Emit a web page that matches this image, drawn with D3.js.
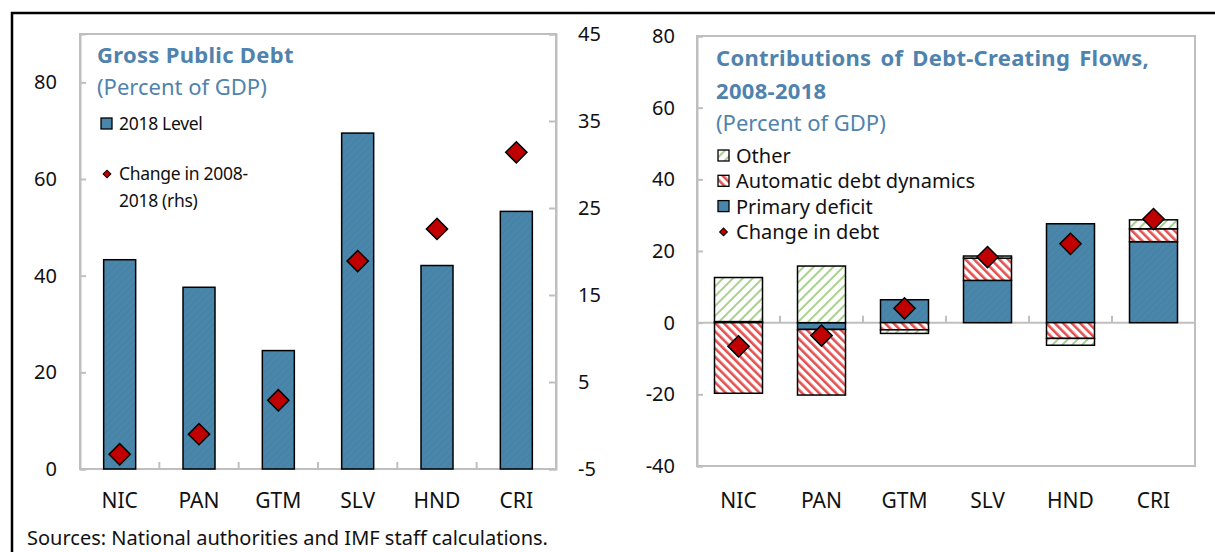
<!DOCTYPE html>
<html>
<head>
<meta charset="utf-8">
<script src="https://cdn.jsdelivr.net/npm/d3@7"></script>
<style>
body { margin: 0; background: #fff; }
text { font-family: "Noto Sans", "Open Sans", sans-serif; fill: #111; }
</style>
</head>
<body>
<div id="chart"></div>
<script>
const width = 1215, height = 552;

// data
const categories = ["NIC", "PAN", "GTM", "SLV", "HND", "CRI"];
const level2018 = [43.3, 37.6, 24.5, 69.5, 42.1, 53.3];
const change0818 = [-3.3, -1.0, 2.9, 18.9, 22.6, 31.4];
const leftTicks = [0, 20, 40, 60, 80];
const rhsTicks = [-5, 5, 15, 25, 35, 45];

const primaryDeficit = [0.3, -1.9, 6.4, 11.8, 27.6, 22.6];
const autoDynamics = [-19.7, -18.3, -2.0, 6.2, -4.4, 3.6];
const otherFlows = [12.3, 15.8, -1.0, 0.6, -1.9, 2.5];
const debtChange = [-6.6, -3.6, 4.0, 18.3, 22.0, 28.9];
const rightTicks = [-40, -20, 0, 20, 40, 60, 80];

const blue = "#4a86aa", red = "#c00000", titleBlue = "#4f83ae", grey = "#bfbfbf";

const svg = d3.select("#chart").append("svg")
.attr("width", width)
.attr("height", height);

svg.append("rect").attr("width", width).attr("height", height).attr("fill", "#fff");

// patterns
const defs = svg.append("defs");
const pBlue = defs.append("pattern").attr("id", "pBlue")
.attr("width", 5).attr("height", 5).attr("patternUnits", "userSpaceOnUse")
.attr("patternTransform", "rotate(45)");
pBlue.append("rect").attr("width", 5).attr("height", 5).attr("fill", blue);
pBlue.append("rect").attr("width", 1).attr("height", 5).attr("fill", "#4581a6");

const pRed = defs.append("pattern").attr("id", "pRed")
.attr("width", 6).attr("height", 6).attr("patternUnits", "userSpaceOnUse")
.attr("patternTransform", "rotate(-45)");
pRed.append("rect").attr("width", 6).attr("height", 6).attr("fill", "#fff");
pRed.append("rect").attr("width", 2.6).attr("height", 6).attr("fill", "#e2504f");

const pGreen = defs.append("pattern").attr("id", "pGreen")
.attr("width", 7).attr("height", 7).attr("patternUnits", "userSpaceOnUse")
.attr("patternTransform", "rotate(45)");
pGreen.append("rect").attr("width", 7).attr("height", 7).attr("fill", "#fff");
pGreen.append("rect").attr("width", 2).attr("height", 7).attr("fill", "#a9d18e");

// outer frame
svg.append("path")
.attr("d", "M12,552V13H1215")
.attr("fill", "none").attr("stroke", "#000").attr("stroke-width", 2.5);

const diamond = d3.symbol().type(d3.symbolSquare);
const fmt = d => String(d);

// ---------- left panel ----------
const L = {left: 80, right: 556, top: 34, bottom: 469};

const xL = d3.scaleBand().domain(categories).range([L.left, L.right]);
const yL = d3.scaleLinear().domain([0, 90]).range([L.bottom, L.top]);
const yR = d3.scaleLinear().domain([-5, 45]).range([L.bottom, L.top]);

const left = svg.append("g");

left.append("rect")
.attr("x", L.left).attr("y", L.top)
.attr("width", L.right - L.left).attr("height", L.bottom - L.top)
.attr("fill", "none").attr("stroke", grey).attr("stroke-width", 2);

left.append("g").attr("transform", `translate(${L.left},0)`)
.call(d3.axisLeft(yL).tickValues(leftTicks).tickFormat(fmt).tickSize(-6).tickPadding(23));
left.append("g").attr("transform", `translate(${L.right},0)`)
.call(d3.axisRight(yR).tickValues(rhsTicks).tickFormat(fmt).tickSize(-7).tickPadding(22));

left.append("g").selectAll("line")
.data(categories.slice(1))
.join("line")
.attr("x1", d => xL(d)).attr("x2", d => xL(d))
.attr("y1", yL(0)).attr("y2", yL(0) - 7)
.attr("stroke", grey).attr("stroke-width", 2);

left.append("g").selectAll("rect")
.data(categories)
.join("rect")
.attr("x", d => xL(d) + xL.bandwidth() / 2 - 16)
.attr("width", 32)
.attr("y", (d, i) => yL(level2018[i]))
.attr("height", (d, i) => yL(0) - yL(level2018[i]))
.attr("fill", "url(#pBlue)")
.attr("stroke", "#000").attr("stroke-width", 1.5);

left.append("g").selectAll("path")
.data(categories)
.join("path")
.attr("d", diamond.size(225))
.attr("transform", (d, i) => `translate(${xL(d) + xL.bandwidth() / 2},${yR(change0818[i])}) rotate(45)`)
.attr("fill", red).attr("stroke", "#000").attr("stroke-width", 1.5);

left.append("g").selectAll("text")
.data(categories)
.join("text")
.attr("x", d => xL(d) + xL.bandwidth() / 2)
.attr("y", 508)
.attr("text-anchor", "middle")
.attr("font-size", 21)
.text(d => d);

left.append("text").attr("x", 97).attr("y", 63)
.attr("font-size", 22).attr("font-weight", "bold").attr("letter-spacing", 0.3)
.style("fill", titleBlue).text("Gross Public Debt");
left.append("text").attr("x", 97).attr("y", 95)
.attr("font-size", 22).style("fill", titleBlue).text("(Percent of GDP)");

left.append("rect").attr("x", 101).attr("y", 118).attr("width", 11).attr("height", 11)
.attr("fill", blue).attr("stroke", "#000").attr("stroke-width", 1.3);
left.append("text").attr("x", 119).attr("y", 130).attr("font-size", 17.5)
.attr("letter-spacing", -0.3).text("2018 Level");

left.append("path").attr("d", diamond.size(30))
.attr("transform", "translate(107,174) rotate(45)")
.attr("fill", red).attr("stroke", "#000").attr("stroke-width", 1);
left.append("text").attr("x", 119).attr("y", 180).attr("font-size", 17.5)
.attr("letter-spacing", -0.3).text("Change in 2008-");
left.append("text").attr("x", 119).attr("y", 207).attr("font-size", 17.5)
.attr("letter-spacing", -0.3).text("2018 (rhs)");

// ---------- right panel ----------
const R = {left: 697, right: 1195, top: 36, bottom: 466};

const xB = d3.scaleBand().domain(categories).range([R.left, R.right]);
const yB = d3.scaleLinear().domain([-40, 80]).range([R.bottom, R.top]);

const right = svg.append("g");

right.append("rect")
.attr("x", R.left).attr("y", R.top)
.attr("width", R.right - R.left).attr("height", R.bottom - R.top)
.attr("fill", "none").attr("stroke", grey).attr("stroke-width", 2);

right.append("g").attr("transform", `translate(${R.left},0)`)
.call(d3.axisLeft(yB).tickValues(rightTicks).tickFormat(fmt).tickSize(-6).tickPadding(22));

right.append("line")
.attr("x1", R.left).attr("x2", R.right)
.attr("y1", yB(0)).attr("y2", yB(0))
.attr("stroke", grey).attr("stroke-width", 2);

right.append("g").selectAll("line")
.data(categories.slice(1))
.join("line")
.attr("x1", d => xB(d)).attr("x2", d => xB(d))
.attr("y1", yB(0)).attr("y2", yB(0) - 7)
.attr("stroke", grey).attr("stroke-width", 2);

const rows = categories.map((c, i) => ({
    cat: c, primary: primaryDeficit[i], automatic: autoDynamics[i], other: otherFlows[i]
}));
const keys = ["primary", "automatic", "other"];
const fills = {primary: "url(#pBlue)", automatic: "url(#pRed)", other: "url(#pGreen)"};
const stacked = d3.stack().keys(keys).offset(d3.stackOffsetDiverging)(rows);

right.append("g").selectAll("g")
.data(stacked)
.join("g")
.attr("fill", d => fills[d.key])
.selectAll("rect")
.data(d => d)
.join("rect")
.attr("x", d => xB(d.data.cat) + xB.bandwidth() / 2 - 24)
.attr("width", 48)
.attr("y", d => yB(Math.max(d[0], d[1])))
.attr("height", d => Math.abs(yB(d[0]) - yB(d[1])))
.attr("stroke", "#000").attr("stroke-width", 1.5);

right.append("g").selectAll("path")
.data(categories)
.join("path")
.attr("d", diamond.size(225))
.attr("transform", (d, i) => `translate(${xB(d) + xB.bandwidth() / 2},${yB(debtChange[i])}) rotate(45)`)
.attr("fill", red).attr("stroke", "#000").attr("stroke-width", 1.5);

right.append("g").selectAll("text")
.data(categories)
.join("text")
.attr("x", d => xB(d) + xB.bandwidth() / 2)
.attr("y", 508)
.attr("text-anchor", "middle")
.attr("font-size", 21)
.text(d => d);

right.append("text").attr("x", 716).attr("y", 66)
.attr("font-size", 22).attr("font-weight", "bold").attr("letter-spacing", 0.3)
.attr("word-spacing", 3)
.style("fill", titleBlue).text("Contributions  of Debt-Creating Flows,");
right.append("text").attr("x", 716).attr("y", 99)
.attr("font-size", 22).attr("font-weight", "bold").attr("letter-spacing", 0.3)
.style("fill", titleBlue).text("2008-2018");
right.append("text").attr("x", 716).attr("y", 131)
.attr("font-size", 22).style("fill", titleBlue).text("(Percent of GDP)");

const legendItems = [
    {label: "Other", fill: "url(#pGreen)"},
    {label: "Automatic debt dynamics", fill: "url(#pRed)"},
    {label: "Primary deficit", fill: blue},
    {label: "Change in debt", fill: null}
];
const lg = right.append("g").selectAll("g")
.data(legendItems)
.join("g")
.attr("transform", (d, i) => `translate(718,${156 + i * 25.3})`);
lg.filter(d => d.fill)
.append("rect")
.attr("x", 0).attr("y", -6).attr("width", 11).attr("height", 11)
.attr("fill", d => d.fill).attr("stroke", "#000").attr("stroke-width", 1.3);
lg.filter(d => !d.fill)
.append("path")
.attr("d", diamond.size(30))
.attr("transform", "translate(5.5,0) rotate(45)")
.attr("fill", red).attr("stroke", "#000").attr("stroke-width", 1);
lg.append("text")
.attr("x", 18).attr("y", 7)
.attr("font-size", 20)
.text(d => d.label);

// axis text styling
svg.selectAll(".tick text").attr("font-size", 20).attr("font-family", "Noto Sans, sans-serif").style("fill", "#111");
svg.selectAll(".tick line").attr("stroke", grey).attr("stroke-width", 2);
svg.selectAll(".domain").attr("stroke", grey).attr("stroke-width", 2);

svg.append("text").attr("x", 27).attr("y", 545)
.attr("font-size", 20).text("Sources: National authorities and IMF staff calculations.");
</script>
</body>
</html>
